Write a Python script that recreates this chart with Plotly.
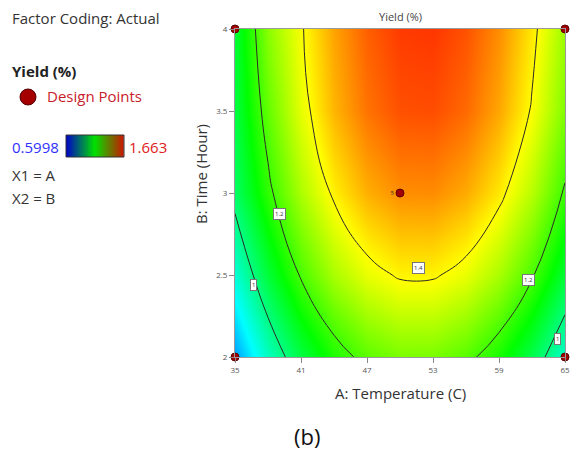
import numpy as np
import plotly.graph_objects as go

W, H = 570, 454

# ---------------- data ----------------
temperature = [35, 38, 41, 44, 47, 50, 53, 56, 59, 62, 65]          # A: Temperature (C)
time_hour = [2.0, 2.5, 3.0, 3.5, 4.0]                               # B: Time (Hour)
yield_pct = [                                                       # rows = time, cols = temperature
    [0.765, 0.931, 1.062, 1.161, 1.226, 1.258, 1.257, 1.222, 1.154, 1.053, 0.919],
    [0.910, 1.074, 1.208, 1.308, 1.374, 1.408, 1.408, 1.375, 1.308, 1.209, 1.076],
    [1.030, 1.180, 1.310, 1.412, 1.480, 1.515, 1.517, 1.485, 1.420, 1.322, 1.191],
    [1.065, 1.234, 1.371, 1.474, 1.543, 1.580, 1.583, 1.553, 1.489, 1.393, 1.263],
    [1.079, 1.275, 1.392, 1.493, 1.564, 1.602, 1.607, 1.578, 1.516, 1.421, 1.293],
]
design_A = [35, 35, 65, 65, 50]
design_B = [2, 4, 2, 4, 3]
design_count = ["", "", "", "", "5"]
yield_min, yield_max = 0.5998, 1.663
contour_start, contour_end, contour_step = 1.0, 1.4, 0.2
label_text = ["1", "1.2", "1.4", "1.2", "1"]
label_A = [36.7, 39.0, 51.7, 61.7, 64.3]
label_B = [2.44, 2.87, 2.54, 2.47, 2.11]
x_ticks = [35, 41, 47, 53, 59, 65]
y_ticks = [2, 2.5, 3, 3.5, 4]

# ---------------- helpers (pixel -> paper) ----------------
def px(x):
    return x / W

def py(y):
    return 1 - y / H

FONT = "Open Sans"
colorscale = [[0.0, "#0000ff"], [0.25, "#00ffff"], [0.5, "#00ff00"],
              [0.75, "#ffff00"], [1.0, "#ff0000"]]

fig = go.Figure()

fig.add_trace(go.Contour(
    x=temperature, y=time_hour, z=yield_pct,
    colorscale=colorscale, zmin=yield_min, zmax=yield_max,
    contours=dict(coloring="heatmap", start=contour_start, end=contour_end,
                  size=contour_step, showlabels=False),
    line=dict(color="#2a2a2a", width=1, smoothing=1.3),
    showscale=False, hoverinfo="skip",
    xaxis="x", yaxis="y",
))

fig.add_trace(go.Scatter(
    x=design_A, y=design_B, mode="markers+text",
    text=design_count, textposition="middle left",
    textfont=dict(size=6, color="#333", family=FONT),
    marker=dict(size=8, color="#a50000", line=dict(color="#5a0000", width=1)),
    cliponaxis=False, showlegend=False, hoverinfo="skip",
    xaxis="x", yaxis="y",
))

# legend gradient bar
grad = np.linspace(0, 1, 120)
fig.add_trace(go.Heatmap(
    z=[grad], x=grad, y=[0],
    colorscale=[[0.0, "#0000c8"], [0.5, "#00e000"], [1.0, "#c81800"]],
    showscale=False, hoverinfo="skip", xaxis="x2", yaxis="y2",
))

axis_common = dict(showgrid=False, zeroline=False, ticks="outside", ticklen=5,
                   tickcolor="#888", tickwidth=1, showline=True, linecolor="#9a9a9a",
                   linewidth=1, mirror=True, automargin=False,
                   tickfont=dict(size=8, color="#555", family=FONT))

fig.update_layout(
    width=W, height=H,
    margin=dict(l=0, r=0, t=0, b=0, pad=0, autoexpand=False),
    paper_bgcolor="white", plot_bgcolor="white",
    showlegend=False,
    xaxis=dict(domain=[px(235), px(565)], range=[35, 65], tickvals=x_ticks,
               ticktext=[str(v) for v in x_ticks], anchor="y", **axis_common),
    yaxis=dict(domain=[py(357), py(29)], range=[2, 4], tickvals=y_ticks,
               ticktext=["2", "2.5", "3", "3.5", "4"], anchor="x", **axis_common),
    xaxis2=dict(domain=[px(66), px(124)], range=[0, 1], visible=False, anchor="y2"),
    yaxis2=dict(domain=[py(157), py(135)], range=[-0.5, 0.5], visible=False, anchor="x2"),
)

# border of legend bar
fig.add_shape(type="rect", xref="paper", yref="paper",
              x0=px(66), x1=px(124), y0=py(157), y1=py(135),
              line=dict(color="#333", width=1))
# legend marker
fig.add_shape(type="circle", xref="paper", yref="paper",
              x0=px(20), x1=px(36), y0=py(105), y1=py(89),
              fillcolor="#a50000", line=dict(color="#500000", width=1))

def note(text, x, y, size=15, color="#333", xanchor="left", **kw):
    fig.add_annotation(text=text, x=px(x), y=py(y), xref="paper", yref="paper",
                       xanchor=xanchor, yanchor="middle", showarrow=False,
                       font=dict(size=size, color=color, family=FONT), **kw)

note("Factor Coding: Actual", 10, 18)
note("<b>Yield (%)</b>", 10, 71, color="#222")
note("Design Points", 45, 96, color="#c8202a")
note("0.5998", 10, 147, color="#3030ff")
note("1.663", 127, 147, color="#e02020")
note("X1 = A", 10, 175)
note("X2 = B", 10, 198)
note("Yield (%)", 400, 17, size=11, color="#444", xanchor="center")
note("A: Temperature (C)", 400, 393, size=15, xanchor="center")
note("B: Time (Hour)", 201, 174, size=15, xanchor="center", textangle=-90)
note("(b)", 307, 436, size=22, color="#111", xanchor="center")

# contour level labels
for t, a, b in zip(label_text, label_A, label_B):
    fig.add_annotation(text=t, x=a, y=b, xref="x", yref="y", showarrow=False,
                       font=dict(size=6, color="#333", family=FONT),
                       bgcolor="white", bordercolor="#777", borderwidth=1, borderpad=1)

fig.write_html("out.html")
